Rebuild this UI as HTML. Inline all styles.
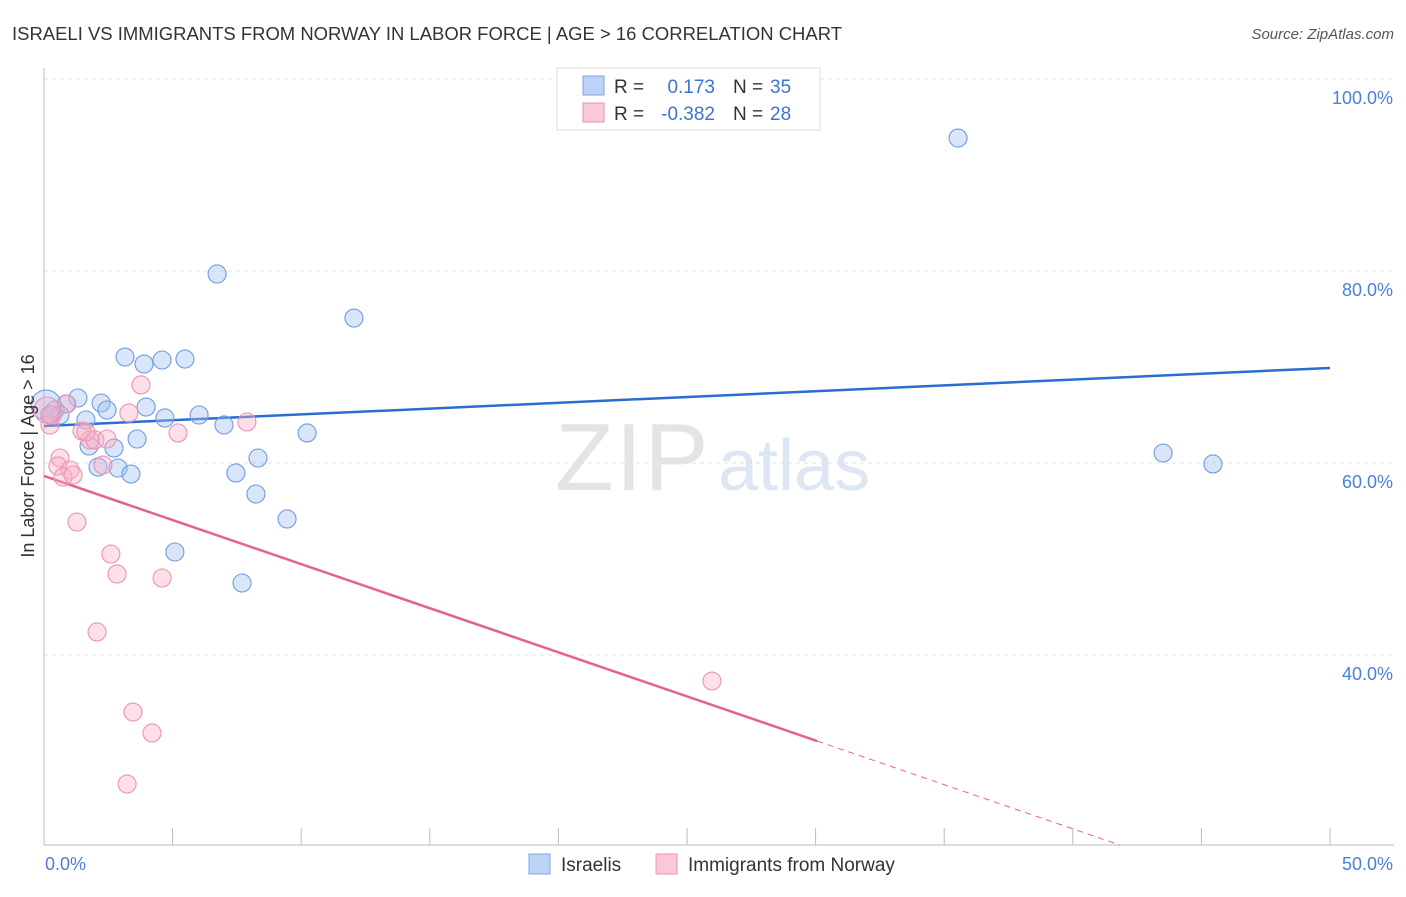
<!DOCTYPE html>
<html><head><meta charset="utf-8"><style>
body{margin:0;background:#fff;font-family:"Liberation Sans",sans-serif;}
svg text{font-family:"Liberation Sans",sans-serif;}
</style></head><body>
<svg id="chart" width="1406" height="892">
<text x="12" y="40" font-size="18" fill="#333" textLength="830" lengthAdjust="spacingAndGlyphs">ISRAELI VS IMMIGRANTS FROM NORWAY IN LABOR FORCE | AGE &gt; 16 CORRELATION CHART</text>
<text x="1394" y="39" font-size="15" fill="#555" font-style="italic" text-anchor="end">Source: ZipAtlas.com</text>
<g><text x="555" y="490" font-size="96" fill="#e4e4e4" font-family="Liberation Serif" letter-spacing="2">ZIP</text><text x="718" y="490" font-size="72" fill="#dce6f4">atlas</text></g>
<g id="grid"></g>
<g id="axes"></g>
<g id="lines"></g>
<g id="pts"></g>
<text transform="translate(34,456) rotate(-90)" font-size="18" fill="#333" text-anchor="middle">In Labor Force | Age &gt; 16</text>
<text x="45" y="870" font-size="18" fill="#4a7fd6">0.0%</text>
<text x="1393" y="870" font-size="18" fill="#4a7fd6" text-anchor="end">50.0%</text>
<g>
<rect x="557" y="68" width="263" height="62" fill="#fff" stroke="#ddd"/>
<rect x="583" y="76" width="21" height="19" fill="#bcd3f5" stroke="#7fa6e0"/>
<rect x="583" y="103" width="21" height="19" fill="#fbc8d8" stroke="#eb94b1"/>
<text x="614" y="93" font-size="19" fill="#333">R =</text><text x="715" y="93" font-size="19" fill="#3d72d0" text-anchor="end">0.173</text>
<text x="733" y="93" font-size="19" fill="#333">N =</text><text x="770" y="93" font-size="19" fill="#3d72d0">35</text>
<text x="614" y="120" font-size="19" fill="#333">R =</text><text x="715" y="120" font-size="19" fill="#3d72d0" text-anchor="end">-0.382</text>
<text x="733" y="120" font-size="19" fill="#333">N =</text><text x="770" y="120" font-size="19" fill="#3d72d0">28</text>
</g>
<g>
<rect x="529" y="854" width="21" height="20" fill="#bcd3f5" stroke="#7fa6e0"/>
<text x="561" y="871" font-size="19" fill="#333">Israelis</text>
<rect x="656" y="854" width="21" height="20" fill="#fbc8d8" stroke="#eb94b1"/>
<text x="688" y="871" font-size="19" fill="#333">Immigrants from Norway</text>
</g>
</svg>
<script>
const yTicks=[40,60,80,100];
const yTickLabels=["40.0%","60.0%","80.0%","100.0%"];
const xTicks=[0,5,10,15,20,25,30,35,40,45,50];
const israeliX=[35.54,6.73,12.05,3.15,3.89,4.59,5.48,1.32,2.22,2.45,3.97,0.86,0.43,0.62,1.63,4.70,6.03,7.00,3.62,1.75,2.72,10.23,8.32,2.10,2.88,3.38,7.46,8.24,9.45,5.09,7.70,43.51,45.45,0.08,0.23];
const israeliY=[93.85,79.69,75.10,71.04,70.31,70.73,70.83,66.77,66.25,65.52,65.83,66.15,65.52,65.0,64.48,64.69,65.0,63.96,62.5,61.77,61.56,63.13,60.52,59.58,59.48,58.85,58.96,56.77,54.17,50.73,47.5,61.04,59.9,66.04,65.0];
const norwayX=[3.77,3.30,0.89,0.31,0.23,1.48,1.79,1.98,2.45,5.21,7.89,0.62,0.54,1.01,0.74,1.13,2.29,1.28,2.60,2.84,4.59,2.06,25.97,3.46,4.20,3.23,0.12,1.63];
const norwayY=[68.13,65.21,66.15,65.0,63.96,63.33,62.4,62.4,62.5,63.13,64.27,60.52,59.69,59.27,58.54,58.75,59.79,53.85,50.52,48.44,48.02,42.4,37.29,34.06,31.88,26.56,65.52,63.23];
const israeliTrend=[63.85,69.9];
const norwayTrend=[58.65,31.04,20.2];
const norwayTrendX=[0,30.06,41.84];

const NS="http://www.w3.org/2000/svg";
const X=v=>44+v*1286/50, Y=v=>1039-v*9.6;
function mk(p,t,a){const e=document.createElementNS(NS,t);for(const k in a)e.setAttribute(k,a[k]);document.getElementById(p).appendChild(e);return e;}
let e=mk('grid','line',{x1:44,x2:1394,y1:Y(100),y2:Y(100),stroke:'#ddd','stroke-dasharray':'4,4'});


yTicks.forEach((t,i)=>{
 const g=mk('grid','line',{x1:44,x2:1394,y1:Y(t),y2:Y(t),stroke:'#e2e2e2','stroke-dasharray':'4,4'});
 
 
 const l=mk('grid','text',{x:1393,y:Y(t)+25,'font-size':18,fill:'#4a7fd6','text-anchor':'end'});
 l.textContent=yTickLabels[i];
 
 
});
e=mk('axes','line',{x1:44,x2:44,y1:68,y2:845,stroke:'#bbb'});


e=mk('axes','line',{x1:44,x2:1394,y1:845,y2:845,stroke:'#bbb'});


xTicks.forEach(t=>{const k=mk('axes','line',{x1:X(t),x2:X(t),y1:828,y2:845,stroke:'#bbb'});
 
 });
e=mk('lines','line',{x1:X(0),y1:Y(israeliTrend[0]),x2:X(50),y2:Y(israeliTrend[1]),stroke:'#2a6dd3','stroke-width':2.5});


e=mk('lines','line',{x1:X(norwayTrendX[0]),y1:Y(norwayTrend[0]),x2:X(norwayTrendX[1]),y2:Y(norwayTrend[1]),stroke:'#e4628e','stroke-width':2.5});


e=mk('lines','line',{x1:X(norwayTrendX[1]),y1:Y(norwayTrend[1]),x2:X(norwayTrendX[2]),y2:Y(norwayTrend[2]),stroke:'#e4628e','stroke-width':1,'stroke-dasharray':'6,5'});


israeliX.forEach((v,i)=>{const c=mk('pts','circle',{cx:X(v),cy:Y(israeliY[i]),r:i==33?15:9,fill:'rgba(160,192,240,0.4)',stroke:'#6f9be0','stroke-width':1.1});
 
 });
norwayX.forEach((v,i)=>{const c=mk('pts','circle',{cx:X(v),cy:Y(norwayY[i]),r:i==26?13:9,fill:'rgba(248,175,198,0.4)',stroke:'#ec93b1','stroke-width':1.1});
 
 });
</script>
</body></html>
